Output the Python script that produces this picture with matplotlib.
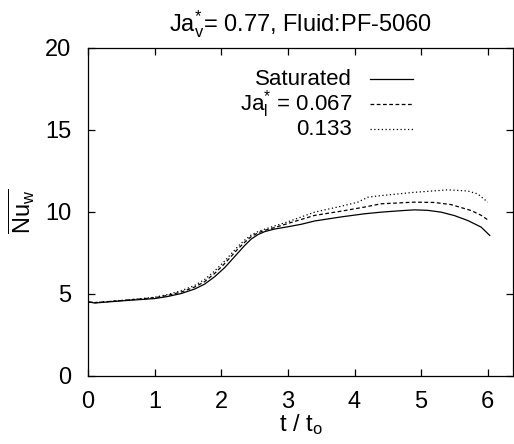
import numpy as np
import matplotlib
matplotlib.use("Agg")
import matplotlib.pyplot as plt

plt.rcParams['font.family'] = ['Liberation Sans', 'DejaVu Sans']
plt.rcParams['mathtext.fontset'] = 'custom'
plt.rcParams['mathtext.rm'] = 'Liberation Sans'
plt.rcParams['mathtext.it'] = 'Liberation Sans:italic'
plt.rcParams['mathtext.default'] = 'regular'

# values
t_sat = [0, 0.1, 0.5, 1.0, 1.2, 1.4, 1.6, 1.75, 1.9, 2.05, 2.15, 2.25, 2.35, 2.45,
         2.55, 2.65, 2.8, 3.0, 3.2, 3.4, 3.8, 4.15, 4.4, 4.7, 4.9, 5.1, 5.3, 5.5,
         5.7, 5.9, 6.03]
nu_sat = [4.52, 4.45, 4.58, 4.72, 4.85, 5.03, 5.3, 5.6, 6.05, 6.6, 7.05, 7.5, 7.95, 8.35,
          8.62, 8.8, 8.96, 9.1, 9.25, 9.45, 9.7, 9.89, 9.99, 10.08, 10.13, 10.1, 9.99, 9.78,
          9.48, 9.08, 8.57]

t_067 = [0, 0.1, 0.5, 1.0, 1.2, 1.4, 1.6, 1.75, 1.9, 2.05, 2.15, 2.25, 2.35, 2.45,
         2.55, 2.65, 2.8, 3.0, 3.4, 3.8, 4.15, 4.4, 4.9, 5.2, 5.45, 5.75, 5.9, 6.0]
nu_067 = [4.52, 4.47, 4.6, 4.77, 4.92, 5.12, 5.42, 5.75, 6.25, 6.85, 7.3, 7.75, 8.15, 8.5,
          8.72, 8.88, 9.05, 9.3, 9.79, 10.05, 10.3, 10.5, 10.6, 10.58, 10.45, 10.09, 9.8, 9.52]

t_133 = [0, 0.1, 0.5, 1.0, 1.2, 1.4, 1.6, 1.75, 1.9, 2.05, 2.15, 2.25, 2.35, 2.45,
         2.55, 2.65, 2.8, 3.0, 3.4, 3.8, 4.05, 4.2, 4.4, 4.9, 5.4, 5.7, 5.85, 6.0]
nu_133 = [4.52, 4.48, 4.6, 4.8, 4.97, 5.2, 5.52, 5.88, 6.4, 7.0, 7.45, 7.9, 8.28, 8.6,
          8.8, 8.95, 9.15, 9.4, 9.99, 10.35, 10.6, 10.9, 11.0, 11.2, 11.35, 11.28, 11.1, 10.6]

labels = ['Saturated', r'Ja$_{l}^{*}$ = 0.067', '0.133']
styles = ['-', (0, (3, 2)), (0, (1, 2))]

fig = plt.figure(figsize=(5.14, 4.44), dpi=100)
ax = fig.add_axes([0.1712, 0.1532, 0.8270, 0.7387])

lw = 0.9
series = [(t_sat, nu_sat), (t_067, nu_067), (t_133, nu_133)]
for (t, nu), ls in zip(series, styles):
    ax.plot(t, nu, color='black', lw=lw, linestyle=ls)

ax.set_xlim(0, 6.38)
ax.set_ylim(0, 20)
ax.set_xticks([0, 1, 2, 3, 4, 5, 6])
ax.set_yticks([0, 5, 10, 15, 20])
ax.tick_params(direction='in', top=True, right=True, length=5, width=0.9,
               labelsize=17)
ax.tick_params(axis='x', pad=11)
ax.tick_params(axis='y', pad=12)
for s in ax.spines.values():
    s.set_linewidth(0.9)

ax.set_xlabel(r't / t$_{o}$', fontsize=17, labelpad=-1)
ax.set_ylabel(r'$\overline{Nu_{w}}$', fontsize=17, labelpad=6)
ax.set_title(r'Ja$_{v}^{*}$= 0.77, Fluid:PF-5060', fontsize=17, pad=12)

# legend: right-aligned text, sample line to the right
rows_y = [0.905, 0.830, 0.753]
for lab, ls, yy in zip(labels, styles, rows_y):
    ax.text(0.621, yy, lab, transform=ax.transAxes, ha='right', va='center', fontsize=16)
    ax.plot([0.664, 0.765], [yy, yy], transform=ax.transAxes, color='black',
            lw=lw, linestyle=ls)

fig.savefig('out.png', dpi=100)
